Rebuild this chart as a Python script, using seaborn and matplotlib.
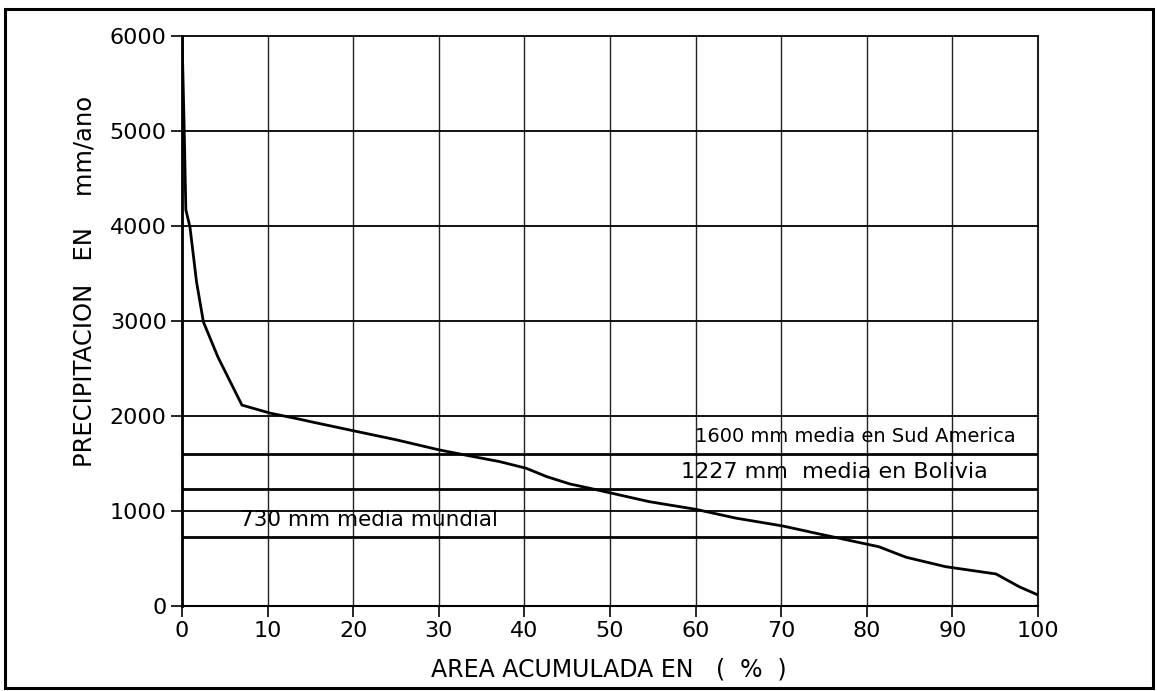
import matplotlib
matplotlib.use("Agg")
import matplotlib.pyplot as plt
from matplotlib.patches import Rectangle
import seaborn as sns
import pandas as pd

# Cumulative area (%) and precipitation (mm/year)
area_pct = [0.0, 0.25, 0.45, 0.93, 1.7, 2.5, 4.2, 7.0, 10.3, 13.8, 15.3, 20.0, 25.0,
            30.1, 33.6, 37.1, 40.2, 42.6, 45.3, 47.6, 54.6, 60.0, 64.7, 70.2, 74.1,
            79.9, 81.4, 84.6, 89.2, 95.1, 97.8, 100.0]
precip_mm = [6000, 5050, 4170, 3990, 3410, 2990, 2620, 2115, 2030, 1965, 1935, 1845, 1750,
             1642, 1580, 1520, 1450, 1362, 1285, 1240, 1098, 1018, 925, 842, 765,
             653, 624, 513, 414, 337, 203, 116]

# Reference means
ref_values = [1600, 1227, 730]
ref_labels = ["1600 mm media en Sud America", "1227 mm  media en Bolivia", "730 mm media mundial"]
ref_label_x = [59.9, 58.3, 6.8]
ref_label_y = [1783, 1414, 905]

x_ticks = list(range(0, 101, 10))
y_ticks = list(range(0, 6001, 1000))

sns.set_style("white")
plt.rcParams["font.family"] = ["DejaVu Sans"]
plt.rcParams["text.color"] = "black"

W, H = 1157, 691
fig = plt.figure(figsize=(W / 100, H / 100), dpi=100)
ax = fig.add_axes([182 / W, 1 - 606 / H, (1038 - 182) / W, (606 - 36) / H])

df = pd.DataFrame({"area": area_pct, "precip": precip_mm})

ax.set_xlim(0, 100)
ax.set_ylim(0, 6000)

# grid
for xv in x_ticks:
    ax.axvline(xv, color="#222222", lw=1.0 if xv < 100 else 1.5, zorder=1, clip_on=False)
for yv in y_ticks:
    ax.axhline(yv, color="black", lw=1.3, zorder=1, clip_on=False)

for v in ref_values:
    ax.axhline(v, color="black", lw=2.0, zorder=2)

sns.lineplot(data=df, x="area", y="precip", color="black", lw=2.0, ax=ax,
             sort=False, zorder=3)

ref_sizes = [14, 16, 15.5]
for lbl, lx, ly, fs in zip(ref_labels, ref_label_x, ref_label_y, ref_sizes):
    ax.text(lx, ly, lbl, fontsize=fs, va="center", ha="left", color="black", zorder=4)

ax.set_xticks(x_ticks)
ax.set_yticks(y_ticks)
ax.set_xticklabels([str(v) for v in x_ticks], fontsize=16)
ax.set_yticklabels([str(v) for v in y_ticks], fontsize=16)
ax.tick_params(axis="both", direction="out", length=8, width=1.2, color="black",
               pad=3, bottom=True, left=True, labelcolor="black")
ax.set_xlabel("")
ax.set_ylabel("")
for side in ["top", "right"]:
    ax.spines[side].set_visible(False)
ax.spines["left"].set_linewidth(2.0)
ax.spines["bottom"].set_linewidth(1.5)
ax.spines["left"].set_color("black")
ax.spines["bottom"].set_color("black")

fig.text(85 / W, 1 - 281 / H, "PRECIPITACION   EN    mm/ano", rotation=90,
         fontsize=17.5, ha="center", va="center", color="black")
fig.text(609 / W, 1 - 670 / H, "AREA ACUMULADA EN   (  %  )", fontsize=17,
         ha="center", va="center", color="black")

# outer frame
fig.patches.append(Rectangle((5 / W, 1 - 688 / H), (1153 - 5) / W, (688 - 9) / H,
                             transform=fig.transFigure, fill=False, lw=2.2,
                             edgecolor="black"))

fig.savefig("out.png", dpi=100, facecolor="white")
